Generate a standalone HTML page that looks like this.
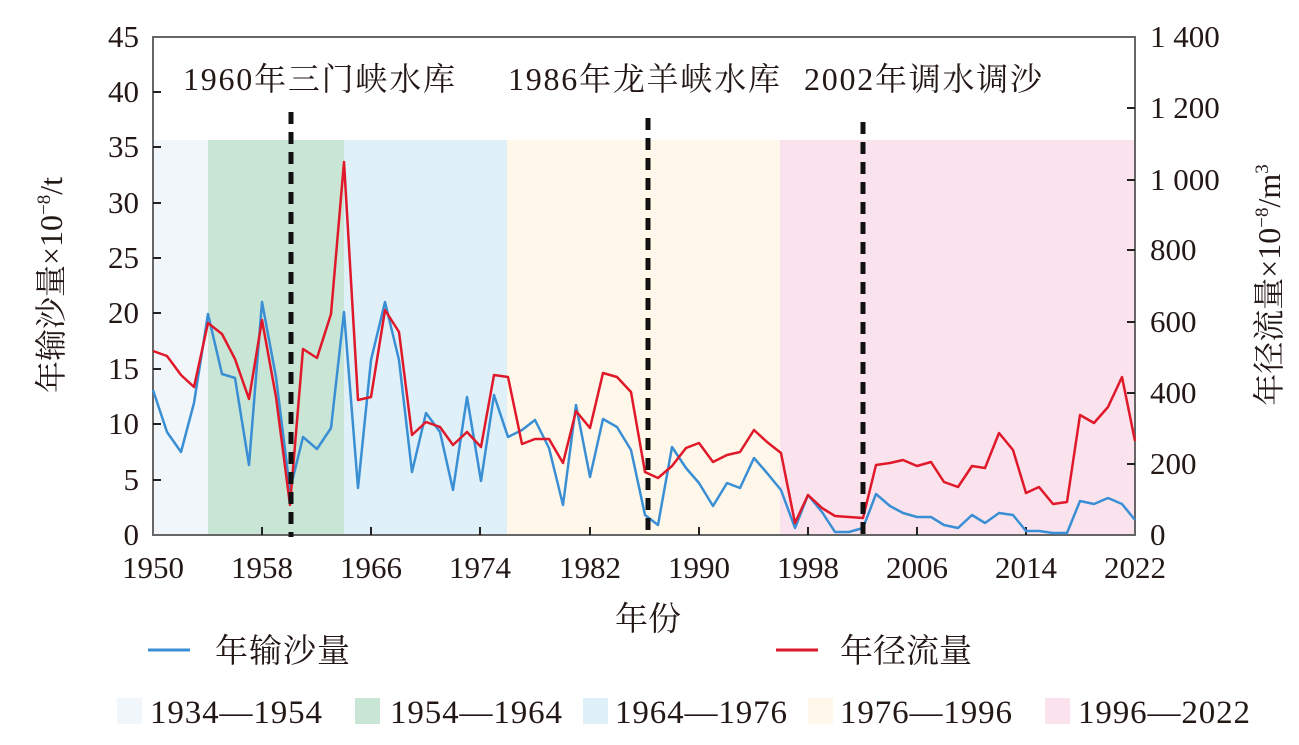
<!DOCTYPE html>
<html><head><meta charset="utf-8"><style>body{margin:0;background:#fff}svg{display:block}</style></head><body>
<svg width="1299" height="745" viewBox="0 0 1299 745" xmlns="http://www.w3.org/2000/svg" font-family="Liberation Serif, Noto Serif CJK SC, serif">
<rect x="153" y="140" width="55" height="395" fill="#f1f6fa"/>
<rect x="208" y="140" width="136" height="395" fill="#c9e5d6"/>
<rect x="344" y="140" width="163" height="395" fill="#dff0f9"/>
<rect x="507" y="140" width="273" height="395" fill="#fff7e9"/>
<rect x="780" y="140" width="355" height="395" fill="#fbe3ee"/>
<rect x="153" y="37" width="982" height="498" fill="none" stroke="#666" stroke-width="2"/>
<g stroke="#222" stroke-width="2">
<line x1="153" y1="92" x2="161" y2="92"/><line x1="153" y1="147" x2="161" y2="147"/><line x1="153" y1="203" x2="161" y2="203"/><line x1="153" y1="258" x2="161" y2="258"/><line x1="153" y1="313" x2="161" y2="313"/><line x1="153" y1="369" x2="161" y2="369"/><line x1="153" y1="424" x2="161" y2="424"/><line x1="153" y1="480" x2="161" y2="480"/>
<line x1="1135" y1="108" x2="1127" y2="108"/><line x1="1135" y1="180" x2="1127" y2="180"/><line x1="1135" y1="250" x2="1127" y2="250"/><line x1="1135" y1="322" x2="1127" y2="322"/><line x1="1135" y1="393" x2="1127" y2="393"/><line x1="1135" y1="464" x2="1127" y2="464"/>
<line x1="262" y1="535" x2="262" y2="527"/><line x1="371" y1="535" x2="371" y2="527"/><line x1="480" y1="535" x2="480" y2="527"/><line x1="590" y1="535" x2="590" y2="527"/><line x1="699" y1="535" x2="699" y2="527"/><line x1="808" y1="535" x2="808" y2="527"/><line x1="917" y1="535" x2="917" y2="527"/><line x1="1026" y1="535" x2="1026" y2="527"/>
</g>
<polyline fill="none" stroke="#3a8fd4" stroke-width="2.5" stroke-linejoin="round" points="153,390 167,432 181,452 194,403 208,314 222,374 235,378 249,465 262,302 276,377 290,490 303,437 317,449 331,428 344,312 358,488 371,360 385,302 399,360 412,472 426,413 440,432 453,490 467,397 481,481 494,395 508,437 522,430 535,420 549,448 563,505 576,405 590,477 603,419 617,427 631,450 645,515 658,525 672,447 686,468 699,483 713,506 727,483 740,488 754,458 767,473 781,490 795,528 808,495 822,512 835,532 849,532 863,528 876,494 890,506 903,513 917,517 931,517 944,525 958,528 972,515 985,523 999,513 1013,515 1026,531 1039,531 1053,533 1067,533 1080,501 1094,504 1108,498 1122,504 1135,520"/>
<polyline fill="none" stroke="#e0192a" stroke-width="2.5" stroke-linejoin="round" points="153,351 167,356 181,375 194,387 208,323 222,334 235,359 249,399 262,320 276,397 290,505 303,349 317,358 331,314 344,162 358,400 371,397 385,310 399,332 412,435 426,422 440,427 453,445 467,432 481,447 494,375 508,377 522,444 535,439 549,439 563,463 576,411 590,428 603,373 617,377 631,392 645,472 658,478 672,466 686,448 699,443 713,462 727,455 740,452 754,430 767,442 781,453 795,523 808,495 822,508 835,516 849,517 863,518 876,465 890,463 903,460 917,466 931,462 944,482 958,487 972,466 985,468 999,433 1013,450 1026,493 1039,487 1053,504 1067,502 1080,415 1094,423 1108,407 1122,377 1135,441"/>
<g stroke="#111" stroke-width="5" stroke-dasharray="12,8">
<line x1="291" y1="112" x2="291" y2="537"/><line x1="648" y1="118" x2="648" y2="537"/><line x1="863" y1="122" x2="863" y2="537"/>
</g>
<g font-size="31" fill="#231815" text-anchor="end">
<text x="139" y="47">45</text><text x="139" y="102">40</text><text x="139" y="157">35</text><text x="139" y="213">30</text><text x="139" y="268">25</text><text x="139" y="323">20</text><text x="139" y="379">15</text><text x="139" y="434">10</text><text x="139" y="490">5</text><text x="139" y="545">0</text>
</g>
<g font-size="31" fill="#231815">
<text x="1150" y="47">1 400</text><text x="1150" y="118">1 200</text><text x="1150" y="190">1 000</text><text x="1150" y="260">800</text><text x="1150" y="332">600</text><text x="1150" y="403">400</text><text x="1150" y="474">200</text><text x="1150" y="545">0</text>
</g>
<g font-size="31" fill="#231815" text-anchor="middle">
<text x="153" y="578">1950</text><text x="262" y="578">1958</text><text x="371" y="578">1966</text><text x="480" y="578">1974</text><text x="590" y="578">1982</text><text x="699" y="578">1990</text><text x="808" y="578">1998</text><text x="917" y="578">2006</text><text x="1026" y="578">2014</text><text x="1135" y="578">2022</text>
<text x="648" y="630" font-size="33">年份</text>
</g>
<g font-size="32" fill="#231815">
<text x="183" y="90" textLength="272">1960年三门峡水库</text><text x="508" y="90" textLength="272">1986年龙羊峡水库</text><text x="804" y="90" textLength="238">2002年调水调沙</text>
</g>
<text transform="translate(62,285) rotate(-90)" font-size="32" fill="#231815" text-anchor="middle">年输沙量×10<tspan font-size="19" dy="-12">−8</tspan><tspan dy="12">/t</tspan></text>
<text transform="translate(1280,285) rotate(-90)" font-size="32" fill="#231815" text-anchor="middle">年径流量×10<tspan font-size="19" dy="-12">−8</tspan><tspan dy="12">/m</tspan><tspan font-size="19" dy="-12">3</tspan></text>
<line x1="148" y1="650" x2="190" y2="650" stroke="#3a8fd4" stroke-width="3"/>
<text x="215" y="662" font-size="33" fill="#231815" textLength="135">年输沙量</text>
<line x1="776" y1="650" x2="818" y2="650" stroke="#e0192a" stroke-width="3"/>
<text x="840" y="662" font-size="33" fill="#231815" textLength="132">年径流量</text>
<rect x="117" y="698" width="25" height="26" fill="#f1f6fa"/>
<rect x="355" y="698" width="25" height="26" fill="#c9e5d6"/>
<rect x="583" y="698" width="25" height="26" fill="#dff0f9"/>
<rect x="808" y="698" width="25" height="26" fill="#fff7e9"/>
<rect x="1045" y="698" width="25" height="26" fill="#fbe3ee"/>
<g font-size="33" fill="#231815">
<text x="150" y="723" textLength="172">1934—1954</text><text x="390" y="723" textLength="172">1954—1964</text><text x="615" y="723" textLength="172">1964—1976</text><text x="840" y="723" textLength="172">1976—1996</text><text x="1078" y="723" textLength="172">1996—2022</text>
</g>
</svg>
</body></html>
